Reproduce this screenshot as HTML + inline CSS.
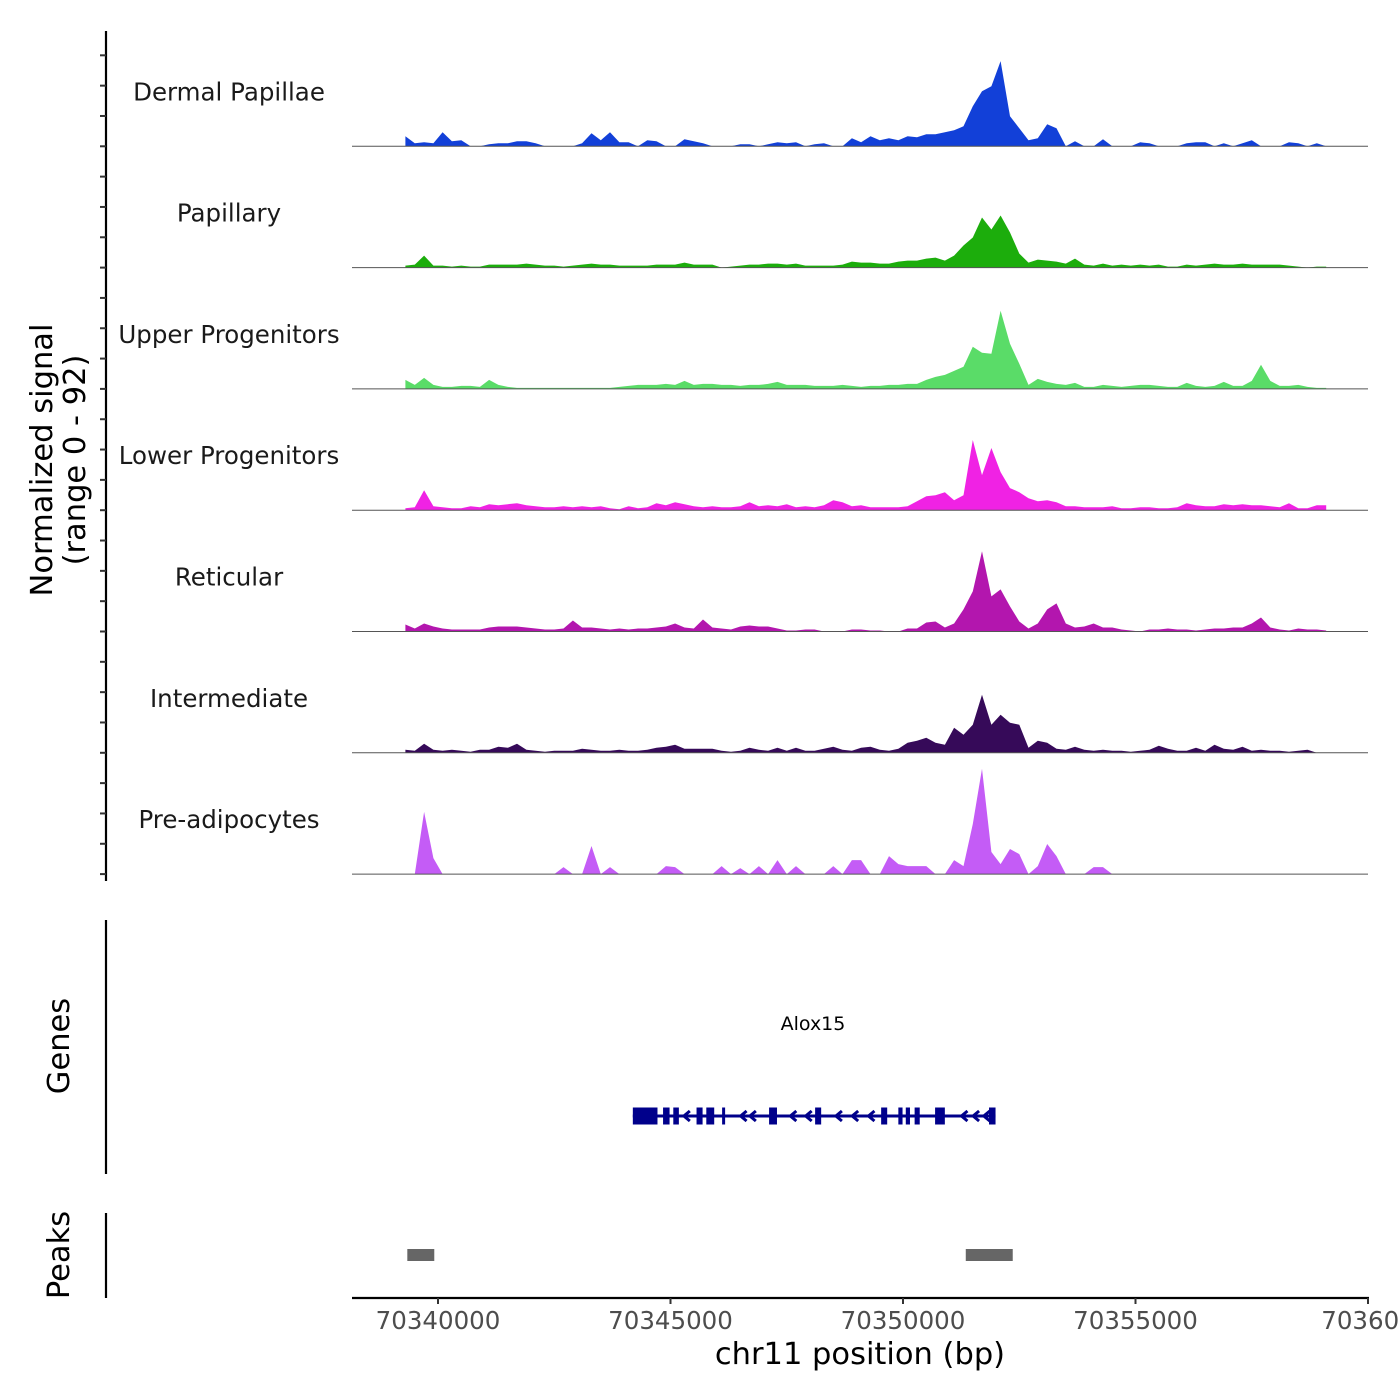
<!DOCTYPE html>
<html><head><meta charset="utf-8"><style>
html,body{margin:0;padding:0;background:#fff;}
svg{display:block;font-family:"DejaVu Sans","Liberation Sans",sans-serif;}
</style></head><body>
<svg id="chart" width="1400" height="1400" viewBox="0 0 1400 1400" xmlns="http://www.w3.org/2000/svg">
<g id="tracks"></g>
<g id="axes"></g>
<g id="genes"></g>
<g id="peaks"></g>
</svg>
<script>
const trackNames = ["Dermal Papillae","Papillary","Upper Progenitors","Lower Progenitors","Reticular","Intermediate","Pre-adipocytes"];
const trackColors = ["#1240d8","#1cad0c","#5adc68","#f022e4","#b316ae","#360a59","#c45cf6"];
const binStart = 70339200;
const binSize = 200;
const sigDermalPapillae = [10,3,4,3,14,5,6,0,0,2,3,3,5,5,3,0,0,0,0,3,13,6,14,4,4,0,6,5,0,0,7,5,3,0,0,0,2,2,0,2,4,3,4,0,2,3,0,0,8,4,10,6,8,6,10,9,12,12,14,16,20,40,55,60,85,30,18,6,8,22,18,0,5,0,0,7,0,0,0,4,3,0,0,0,3,4,4,0,3,0,3,6,0,0,0,4,3,0,3,0];
const sigPapillary = [2,3,12,2,2,1,2,1,1,3,3,3,3,4,3,2,2,1,2,3,4,3,3,2,2,2,2,3,3,3,5,3,3,3,0,1,2,3,3,4,4,3,4,2,2,2,2,3,6,5,5,4,4,6,7,7,9,10,7,12,22,30,50,38,52,35,14,5,8,7,6,4,9,3,2,4,2,3,2,3,2,3,1,1,3,2,3,4,3,3,4,3,3,3,3,2,1,0,1,1];
const sigUpperProgenitors = [9,4,11,4,2,2,3,3,2,9,4,2,1,1,1,1,1,1,1,1,1,1,1,2,3,4,4,4,5,4,8,4,5,5,4,4,3,4,4,5,7,4,4,4,3,3,3,4,3,2,3,3,4,4,5,5,9,12,14,18,22,42,36,35,78,45,25,4,10,7,5,4,6,2,2,4,3,2,3,4,4,3,2,2,6,3,2,3,7,3,3,8,24,8,3,3,4,2,1,1];
const sigLowerProgenitors = [2,3,20,4,3,2,2,4,3,6,5,6,7,5,4,3,3,4,3,4,3,4,2,1,4,2,3,7,5,8,6,4,3,4,3,3,4,8,4,5,4,6,3,4,3,5,10,8,4,5,3,3,3,3,4,9,14,15,18,10,15,70,35,62,38,22,18,12,9,10,8,4,4,3,3,3,4,2,2,3,3,2,2,3,7,5,4,4,6,5,6,5,5,4,3,7,2,2,5,5];
const sigReticular = [7,3,8,5,3,2,2,2,2,4,5,5,5,4,3,2,2,3,11,4,4,3,2,3,2,3,3,4,5,8,4,3,12,4,3,2,5,6,5,5,3,1,1,2,2,0,0,0,2,2,1,1,0,0,3,3,9,10,4,8,22,40,80,35,42,25,10,3,8,22,28,8,4,5,8,4,4,2,1,0,2,2,3,2,2,1,2,3,3,4,4,8,14,4,2,1,3,2,2,1];
const sigIntermediate = [3,2,9,3,2,3,2,1,3,3,6,5,9,3,2,1,2,2,2,4,3,2,2,3,2,2,3,5,6,8,4,4,4,4,2,1,2,5,3,2,5,2,5,2,2,4,6,3,2,5,6,3,2,4,10,12,15,10,8,25,18,28,58,28,38,30,28,5,12,10,4,3,6,3,2,3,2,2,1,2,3,7,4,2,2,5,2,8,4,3,6,2,3,2,2,1,2,3,0,0];
const sigPreAdipocytes = [0,0,62,16,0,0,0,0,0,0,0,0,0,0,0,0,0,7,0,0,28,0,7,0,0,0,0,0,8,7,0,0,0,0,8,0,6,0,8,0,14,0,8,0,0,0,8,0,14,14,0,0,18,10,8,8,8,0,0,14,8,50,105,22,10,25,20,0,8,30,18,0,0,0,7,7,0,0,0,0,0,0,0,0,0,0,0,0,0,0,0,0,0,0,0,0,0,0,0,0];
const trackValues = [sigDermalPapillae,sigPapillary,sigUpperProgenitors,sigLowerProgenitors,sigReticular,sigIntermediate,sigPreAdipocytes];
const xTicks = [70340000,70345000,70350000,70355000,70360000];
const xTickLabels = ["70340000","70345000","70350000","70355000","703600"];
const geneExons = [[70344190,70344720],[70344840,70344980],[70345060,70345180],[70345560,70345690],[70345770,70345940],[70346110,70346160],[70347120,70347290],[70348110,70348240],[70349530,70349660],[70349900,70349990],[70350060,70350150],[70350250,70350360],[70350690,70350900],[70351850,70351990]];
const geneArrows = [70345330,70346550,70346750,70347620,70347950,70348600,70348950,70349300,70351300,70351550,70351780];
const geneSpan = [70344190,70351990];
const peakRanges = [[70339340,70339920],[70351350,70352360]];

const NS = "http://www.w3.org/2000/svg";
const X0 = 438, PX_PER_BP = 232.5/5000;
function xScale(bp){ return X0 + (bp - 70340000) * PX_PER_BP; }
const trackTop = 25, trackH = 121.3, yMax = 121;
function yScale(v, k){ const base = trackTop + trackH*(k+1); return base - v * (trackH / yMax); }
function mk(tag, attrs, parent){ const e=document.createElementNS(NS,tag); for(const a in attrs) e.setAttribute(a,attrs[a]); parent.appendChild(e); return e; }

const gT = document.getElementById("tracks");
trackValues.forEach((vals,k)=>{
  const base = yScale(0,k);
  let d = "M" + xScale(binStart + binSize/2).toFixed(1) + "," + base;
  vals.forEach((v,i)=>{ d += " L" + xScale(binStart + binSize*i + binSize/2).toFixed(1) + "," + yScale(v,k).toFixed(1); });
  d += " L" + xScale(binStart + binSize*(vals.length-1) + binSize/2).toFixed(1) + "," + base + " Z";
  const p = mk("path",{d:d, fill:trackColors[k]}, gT);
  
  
  const bl = mk("line",{x1:352,x2:1368,y1:base,y2:base,stroke:"#555","stroke-width":1}, gT);
  
  
  const t = mk("text",{x:229,y:base-46,"text-anchor":"middle","font-size":24.5,fill:"#1a1a1a"}, gT);
  t.textContent = trackNames[k];
  
  
});

const gA = document.getElementById("axes");
let a = mk("line",{x1:106,x2:106,y1:31,y2:881,stroke:"#000","stroke-width":2.2}, gA);


for(let y = yScale(0,6); y > 40; y -= trackH/4){
  const tk = mk("line",{x1:100,x2:106,y1:y,y2:y,stroke:"#333","stroke-width":2}, gA);
  
  
}
const yt = mk("text",{transform:"translate(52,460) rotate(-90)","text-anchor":"middle","font-size":30.5,fill:"#000"}, gA);


mk("tspan",{x:0,dy:0},yt).textContent="Normalized signal";
mk("tspan",{x:0,dy:33},yt).textContent="(range 0 - 92)";
a = mk("line",{x1:106,x2:106,y1:920,y2:1174,stroke:"#000","stroke-width":2.2}, gA);


let tt = mk("text",{transform:"translate(69,1046) rotate(-90)","text-anchor":"middle","font-size":30.5,fill:"#000"}, gA);
tt.textContent="Genes";


a = mk("line",{x1:106,x2:106,y1:1213,y2:1298,stroke:"#000","stroke-width":2.2}, gA);


tt = mk("text",{transform:"translate(69,1255) rotate(-90)","text-anchor":"middle","font-size":30.5,fill:"#000"}, gA);
tt.textContent="Peaks";


a = mk("line",{x1:352,x2:1369,y1:1298,y2:1298,stroke:"#000","stroke-width":2.2}, gA);


xTicks.forEach((t,i)=>{
  const x = xScale(t);
  const tk = mk("line",{x1:x,x2:x,y1:1298,y2:1304,stroke:"#333","stroke-width":2}, gA);
  
  
  const lb = mk("text",{x:x,y:1329,"text-anchor":"middle","font-size":24.5,fill:"#4d4d4d"}, gA);
  lb.textContent = xTickLabels[i];
  
  
});
tt = mk("text",{x:860,y:1364,"text-anchor":"middle","font-size":30.5,fill:"#000"}, gA);
tt.textContent="chr11 position (bp)";



const gG = document.getElementById("genes");
const gy = 1116;
let gl = mk("line",{x1:xScale(geneSpan[0]),x2:xScale(geneSpan[1]),y1:gy,y2:gy,stroke:"#00008b","stroke-width":3}, gG);


geneExons.forEach(e=>{
  const r = mk("rect",{x:xScale(e[0]),y:gy-8.5,width:Math.max(3,xScale(e[1])-xScale(e[0])),height:17,fill:"#00008b"}, gG);
  
  
});
geneArrows.forEach(b=>{
  const x = xScale(b);
  const p = mk("path",{d:`M${x+4},${gy-5} L${x-2},${gy} L${x+4},${gy+5}`,fill:"none",stroke:"#00008b","stroke-width":3}, gG);
  
  
});
tt = mk("text",{x:813,y:1030,"text-anchor":"middle","font-size":19,fill:"#000"}, gG);
tt.textContent="Alox15";



const gP = document.getElementById("peaks");
peakRanges.forEach(p=>{
  const r = mk("rect",{x:xScale(p[0]),y:1249,width:xScale(p[1])-xScale(p[0]),height:12,fill:"#666"}, gP);
  
  
});
</script>
</body></html>
